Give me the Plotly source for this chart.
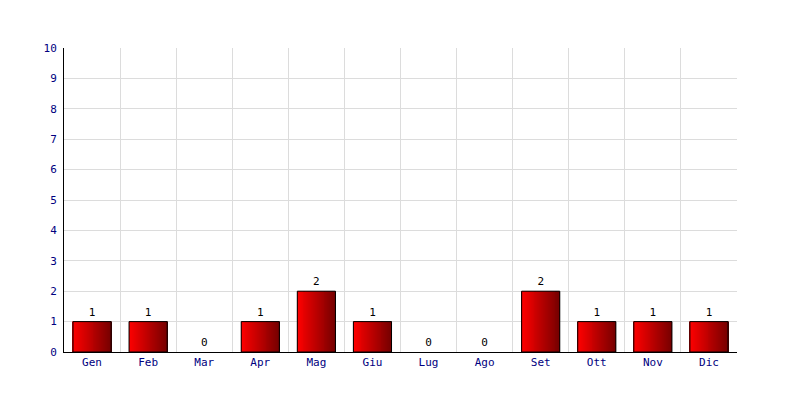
import plotly.graph_objects as go

months = ["Gen", "Feb", "Mar", "Apr", "Mag", "Giu", "Lug", "Ago", "Set", "Ott", "Nov", "Dic"]
counts = [1, 1, 0, 1, 2, 1, 0, 0, 2, 1, 1, 1]
y_ticks = list(range(0, 11))

FONT = "DejaVu Sans Mono"
BAR_W = 0.68
N_SLICES = 40

fig = go.Figure()

# horizontal gradient fill built from narrow slices of each bar
slice_w = BAR_W / N_SLICES
for i in range(N_SLICES):
    t = i / (N_SLICES - 1)
    r = int(round(255 + (120 - 255) * t))
    fig.add_trace(go.Bar(
        x=months, y=counts,
        width=slice_w * 1.05,
        offset=-BAR_W / 2 + i * slice_w,
        marker=dict(color=f"rgb({r},0,0)", line=dict(width=0)),
        hoverinfo="skip", showlegend=False,
    ))

# outline + value labels
fig.add_trace(go.Bar(
    x=months, y=counts,
    width=BAR_W, offset=-BAR_W / 2,
    marker=dict(color="rgba(0,0,0,0)",
                line=dict(color="black", width=[1 if v > 0 else 0 for v in counts])),
    text=[str(v) for v in counts],
    textposition="outside",
    textfont=dict(family=FONT, size=11, color="black"),
    cliponaxis=False,
    hoverinfo="skip", showlegend=False,
))

fig.update_layout(
    width=800, height=400,
    barmode="overlay",
    paper_bgcolor="white", plot_bgcolor="white",
    margin=dict(l=56, r=71, t=40, b=56),
    font=dict(family=FONT, size=11, color="#000080"),
    xaxis=dict(
        type="category",
        tickson="boundaries",
        showgrid=True, gridcolor="#dcdcdc", gridwidth=1,
        showline=True, linecolor="black", linewidth=1,
        ticks="", ticklen=0,
        tickfont=dict(family=FONT, size=11, color="#000080"),
        range=[-0.5, len(months) - 0.5],
    ),
    yaxis=dict(
        range=[0, 10],
        tickvals=y_ticks,
        showgrid=True, gridcolor="#dcdcdc", gridwidth=1,
        showline=True, linecolor="black", linewidth=1,
        zeroline=False,
        ticks="", ticklen=0,
        ticklabelstandoff=4,
        tickfont=dict(family=FONT, size=11, color="#000080"),
    ),
)

fig.write_html("out.html")
